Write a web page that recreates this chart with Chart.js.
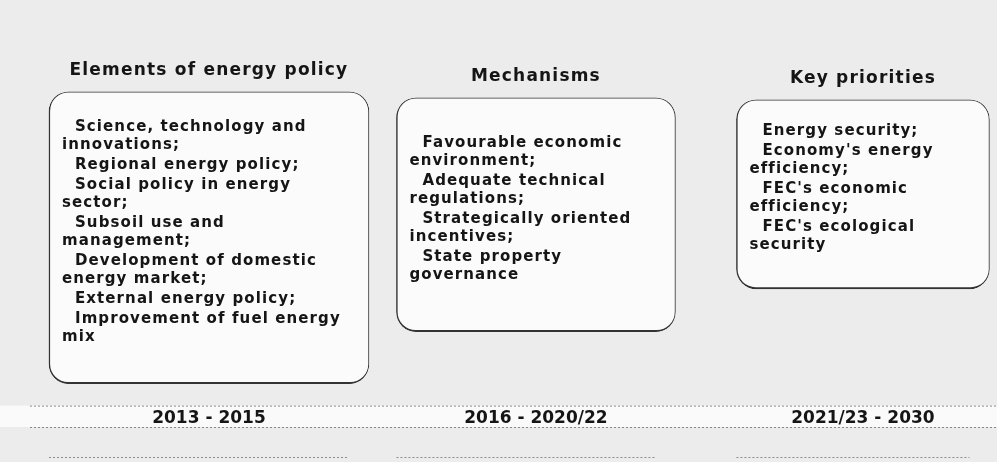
<!DOCTYPE html>
<html>
<head>
<meta charset="utf-8">
<script src="https://cdn.jsdelivr.net/npm/chart.js@4/dist/chart.umd.min.js"></script>
<style>
  html, body { margin: 0; padding: 0; background: #ededed; }
  #wrap { width: 997px; height: 462px; position: relative; }
</style>
</head>
<body>
<div id="wrap"><canvas id="diagram"></canvas></div>
<script>
// ---- data ----
const periods = ["2013 - 2015", "2016 - 2020/22", "2021/23 - 2030"];
const titles = ["Elements of energy policy", "Mechanisms", "Key priorities"];

const policyElements = [
  ["Science, technology and", "innovations;"],
  ["Regional energy policy;"],
  ["Social policy in energy", "sector;"],
  ["Subsoil use and", "management;"],
  ["Development of domestic", "energy market;"],
  ["External energy policy;"],
  ["Improvement of fuel energy", "mix"]
];
const mechanisms = [
  ["Favourable economic", "environment;"],
  ["Adequate technical", "regulations;"],
  ["Strategically oriented", "incentives;"],
  ["State property", "governance"]
];
const keyPriorities = [
  ["Energy security;"],
  ["Economy's energy", "efficiency;"],
  ["FEC's economic", "efficiency;"],
  ["FEC's ecological", "security"]
];
const boxItems = [policyElements, mechanisms, keyPriorities];

// box extents on the (reversed) vertical scale, 0 = top, 100 = timeline
const boxTop = [22.9, 24.4, 24.9];
const boxBottom = [95.8, 82.8, 72.1];

// ---- styling ----
const FONT = "'DejaVu Sans', sans-serif";
const boxWidths = [320, 279, 253];

// background, timeline band
const backdrop = {
  id: "backdrop",
  beforeDraw(chart) {
    const { ctx, width, height, scales } = chart;
    ctx.save();
    ctx.fillStyle = "#ececec";
    ctx.fillRect(0, 0, width, height);

    const bTop = scales.x.top + 5;
    const bBot = scales.x.bottom - 10;
    ctx.fillStyle = "#fafafa";
    ctx.fillRect(0, bTop, width, bBot - bTop);

    ctx.strokeStyle = "#8a8a8a";
    ctx.lineWidth = 1;
    ctx.setLineDash([2, 2]);
    ctx.beginPath();
    ctx.moveTo(30, bTop + 0.5); ctx.lineTo(width, bTop + 0.5);
    ctx.moveTo(30, bBot + 0.5); ctx.lineTo(width, bBot + 0.5);
    // faint lines under each period
    const meta = [0, 1, 2].map(i => chart.getDatasetMeta(i).data[0]);
    meta.forEach((el, i) => {
      const y = bBot + 30.5;
      ctx.moveTo(el.x - boxWidths[i] / 2, y);
      ctx.lineTo(el.x + boxWidths[i] / 2 - 20, y);
    });
    ctx.stroke();
    ctx.restore();
  }
};

// titles above boxes and the lists inside them
const boxText = {
  id: "boxText",
  afterDatasetsDraw(chart) {
    const { ctx } = chart;
    ctx.save();
    ctx.fillStyle = "#151515";
    ctx.textBaseline = "middle";
    chart.data.datasets.forEach((ds, i) => {
      const el = chart.getDatasetMeta(i).data[0];
      const p = el.getProps(["x", "y", "base", "width"], true);
      const top = Math.min(p.y, p.base);
      const bottom = Math.max(p.y, p.base);
      const left = p.x - p.width / 2;

      ctx.font = "bold 17px " + FONT;
      ctx.letterSpacing = "1.2px";
      ctx.textAlign = "center";
      ctx.fillText(titles[i], p.x, top - 21);

      ctx.font = "bold 15px " + FONT;
      ctx.letterSpacing = "1.1px";
      ctx.textAlign = "left";
      const items = boxItems[i];
      const lineH = 18, gap = 2;
      let nLines = 0;
      items.forEach(it => { nLines += it.length; });
      const span = (nLines - 1) * lineH + (items.length - 1) * gap;
      let y = (top + bottom) / 2 - 6 - span / 2;
      items.forEach(it => {
        it.forEach((line, k) => {
          ctx.fillText(line, left + (k === 0 ? 26 : 13), y);
          y += lineH;
        });
        y += gap;
      });
    });
    ctx.restore();
  }
};

const datasets = titles.map((t, i) => ({
  label: t,
  data: [{ x: i, y: [boxTop[i], boxBottom[i]] }],
  backgroundColor: "#fbfbfb",
  borderColor: "#333333",
  borderWidth: { top: 1, right: 1, bottom: 2, left: 1.5 },
  borderSkipped: false,
  borderRadius: 20,
  barThickness: boxWidths[i],
  grouped: false
}));

new Chart(document.getElementById("diagram"), {
  type: "bar",
  data: { datasets },
  options: {
    responsive: true,
    maintainAspectRatio: false,
    animation: false,
    layout: { padding: { left: 0, right: 0, top: 0, bottom: 25 } },
    plugins: {
      legend: { display: false },
      tooltip: { enabled: false }
    },
    scales: {
      x: {
        type: "linear",
        offset: false,
        bounds: "ticks",
        min: -0.639,
        max: 2.410,
        grid: { display: false, drawTicks: false },
        border: { display: false },
        afterBuildTicks: scale => { scale.ticks = periods.map((p, i) => ({ value: i })); },
        ticks: {
          padding: 8,
          color: "#151515",
          font: { family: FONT, size: 17, weight: "bold" },
          callback: v => periods[v]
        }
      },
      y: {
        display: false,
        reverse: true,
        min: 0,
        max: 100
      }
    }
  },
  plugins: [backdrop, boxText]
});
</script>
</body>
</html>
